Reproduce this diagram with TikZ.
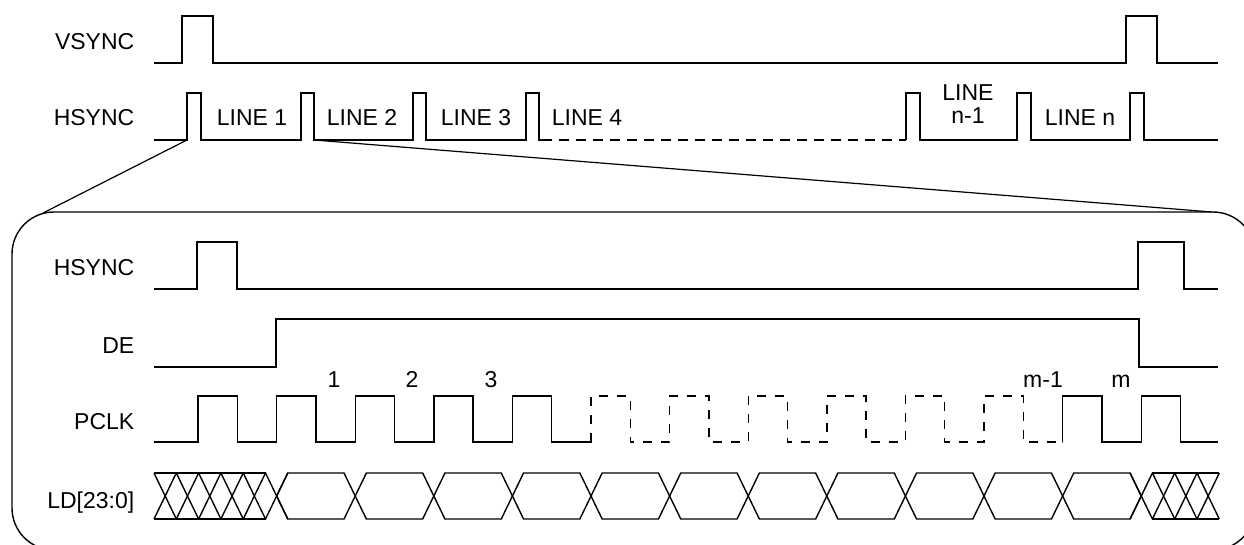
\documentclass[tikz,border=0pt]{standalone}
\usepackage{fontspec}
\setmainfont{Liberation Sans}
\begin{document}
\begin{tikzpicture}[x=1pt,y=-1pt,line width=1.4pt,line join=miter,
  lbl/.style={anchor=base east,inner sep=0pt,font=\fontsize{23}{26}\selectfont},
  txt/.style={anchor=base,inner sep=0pt,font=\fontsize{23}{26}\selectfont},
  dsh/.style={dash pattern=on 10pt off 7pt},
  dshb/.style={dash pattern=on 9pt off 9pt}]
\useasboundingbox (0,0) rectangle (1244,544);
\clip (0,0) rectangle (1244,544);
% labels
\node[lbl] (vsl) at (135,49) {VSYNC};
\node[lbl] (hsl) at (135,125) {HSYNC};
\node[lbl] (hs2) at (135,275) {HSYNC};
\node[lbl] (del) at (135,353) {DE};
\node[lbl] (pcl) at (135,429) {PCLK};
\node[lbl] (ldl) at (135,508) {LD[23:0]};
\node[txt] (l1) at (252,125) {LINE 1};
\node[txt] (l2) at (362,125) {LINE 2};
\node[txt] (l3) at (476,125) {LINE 3};
\node[txt] (l4) at (587,125) {LINE 4};
\node[txt] (lna) at (968,100) {LINE};
\node[txt] (lnb) at (968,123) {n-1};
\node[txt] (ln) at (1080,125) {LINE n};
\node[txt] (p1) at (334,387) {1};
\node[txt] (p2) at (412,387) {2};
\node[txt] (p3) at (491,387) {3};
\node[txt] (pm1) at (1043,387) {m-1};
\node[txt] (pm) at (1121,387) {m};
% VSYNC
\draw (154,63) -- (182,63) -- (182,16) -- (213,16) -- (213,63) -- (1126,63) -- (1126,16) -- (1157,16) -- (1157,63) -- (1218,63);
% HSYNC top
\draw (154,140) -- (187,140) -- (187,93) -- (201,93) -- (201,140) -- (301,140) -- (301,93) -- (314,93) -- (314,140)
  -- (413,140) -- (413,93) -- (426,93) -- (426,140) -- (526,140) -- (526,93) -- (539,93) -- (539,140) -- (542,140);
\draw[dsh] (542,140) -- (906,140);
\draw (906,140) -- (906,93) -- (920,93) -- (920,140) -- (1017,140) -- (1017,93) -- (1031,93) -- (1031,140)
  -- (1130,140) -- (1130,93) -- (1144,93) -- (1144,140) -- (1218,140);
% zoom lines and frame
\coordinate (zA) at (187,140);
\coordinate (zB) at (314,140);
\coordinate (rA) at (43,213);
\coordinate (rB) at (1212,212);
\draw[line width=1.2pt] (zA) -- (rA);
\draw[line width=1.2pt] (zB) -- (rB);
\draw[rounded corners=42pt] (12,212) rectangle (1255,550);
% HSYNC bottom
\draw (154,289) -- (197,289) -- (197,242) -- (237,242) -- (237,289) -- (1138,289) -- (1138,242) -- (1184,242) -- (1184,289) -- (1218,289);
% DE
\draw (154,367) -- (276,367) -- (276,319) -- (1139,319) -- (1139,367) -- (1218,367);
% PCLK
\draw (154,442) \foreach \k in {0,...,4}{ -- ({198+78.6*\k},442) -- ({198+78.6*\k},396) -- ({237.3+78.6*\k},396) -- ({237.3+78.6*\k},442) } -- (591,442);
\draw[dshb] (591,442) \foreach \k in {5,...,10}{ -- ({198+78.6*\k},442) -- ({198+78.6*\k},396) -- ({237.3+78.6*\k},396) -- ({237.3+78.6*\k},442) } -- (1062.6,442);
\draw (1062.6,442) \foreach \k in {11,12}{ -- ({198+78.6*\k},442) -- ({198+78.6*\k},396) -- ({237.3+78.6*\k},396) -- ({237.3+78.6*\k},442) } -- (1218,442);
% LD bus
\draw (154,473) -- (265.5,473) (154,519) -- (265.5,519);
\foreach \i in {0,...,5}{
  \draw ({154+22.3*\i},473) -- ({176.3+22.3*\i},519);
  \draw ({154+22.3*\i},519) -- ({176.3+22.3*\i},473);
}
\foreach \k in {1,...,11}{
  \draw ({276.6+78.6*(\k-1)},496) -- ({287.75+78.6*(\k-1)},473) -- ({344.05+78.6*(\k-1)},473) -- ({355.2+78.6*(\k-1)},496)
    -- ({344.05+78.6*(\k-1)},519) -- ({287.75+78.6*(\k-1)},519) -- cycle;
}
\draw (1152.4,473) -- (1219.3,473) (1152.4,519) -- (1219.3,519);
\foreach \j in {0,...,3}{
  \draw ({1130.1+22.3*\j},473) -- ({1152.4+22.3*\j},519);
  \draw ({1130.1+22.3*\j},519) -- ({1152.4+22.3*\j},473);
}
\end{tikzpicture}
\end{document}
